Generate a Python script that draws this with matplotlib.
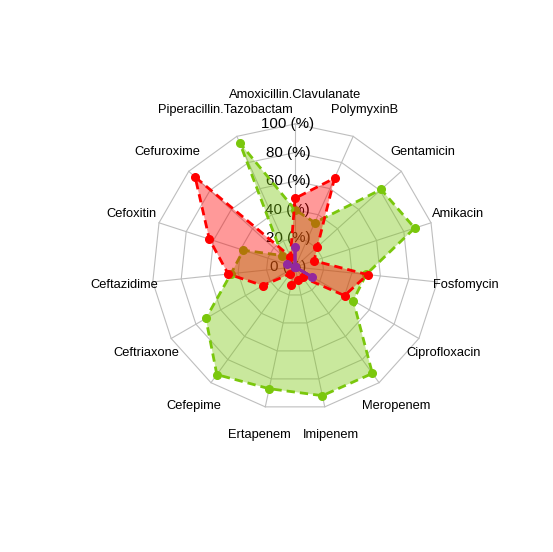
import matplotlib
matplotlib.use('Agg')
import matplotlib.pyplot as plt  # lib for graphs
import numpy as np  # lib for math operations

plt.rcParams['font.family'] = ['Liberation Sans', 'DejaVu Sans']

# antibiotics (counterclockwise from the top)
labels = ['Amoxicillin.Clavulanate', 'Piperacillin.Tazobactam', 'Cefuroxime',
          'Cefoxitin', 'Ceftazidime', 'Ceftriaxone', 'Cefepime', 'Ertapenem',
          'Imipenem', 'Meropenem', 'Ciprofloxacin', 'Fosfomycin', 'Amikacin',
          'Gentamicin', 'PolymyxinB']

# percent values of the three series
green = [40, 95, 12, 38, 45, 72, 93, 87, 92, 92, 47, 50, 88, 81, 34]
red = [48, 8, 94, 63, 47, 26, 6, 13, 9, 9, 40, 51, 14, 21, 68]
purple = [14, 0, 0, 6, 0, 0, 0, 0, 0, 0, 14, 0, 0, 0, 0]

ring_labels = ['0 (%)', '20 (%)', '40 (%)', '60 (%)', '80 (%)', '100 (%)']

n = len(labels)
angles = np.pi / 2 + 2 * np.pi * np.arange(n) / n
xx = np.cos(angles)
yy = np.sin(angles)

fig = plt.figure(figsize=(5.53, 5.52), dpi=100)
ax = fig.add_axes([0, 0, 1, 1])
ax.set_xlim(-2.063, 1.804)
ax.set_ylim(-1.993, 1.867)
ax.axis('off')

# grid rings and spokes
seg = len(ring_labels) - 1
for i in range(1, seg + 1):
    r = i / seg
    ax.plot(np.append(xx, xx[0]) * r, np.append(yy, yy[0]) * r,
            color='#bebebe', lw=0.8, zorder=1)
for k in range(n):
    ax.plot([0, xx[k]], [0, yy[k]], color='#bebebe', lw=0.8, zorder=1)

# axis labels
for i in range(seg + 1):
    ax.text(-0.05, i / seg, ring_labels[i], ha='center', va='center',
            fontsize=10.9, color='black', zorder=2)

# antibiotic names
for k in range(n):
    ax.text(xx[k] * 1.2, yy[k] * 1.2, labels[k], ha='center', va='center',
            fontsize=9.3, color='black')

# series
series = [(green, '#7ac70c', '--', 0.4),
          (red, '#ff0000', '--', 0.4),
          (purple, '#93289e', '-', 0.4)]
z = 3
for vals, col, ls, a in series:
    r = np.array(vals) / 100
    px = xx * r
    py = yy * r
    ax.fill(px, py, color=col, alpha=a, lw=0, zorder=z)
    line, = ax.plot(np.append(px, px[0]), np.append(py, py[0]), color=col,
                    lw=2, ls=ls, zorder=z + 1)
    if ls == '--':
        line.set_dashes((3, 1.8))
    ax.plot(px, py, 'o', color=col, markersize=5.5, zorder=z + 2)
    z += 3

fig.savefig('out.png', dpi=100)
